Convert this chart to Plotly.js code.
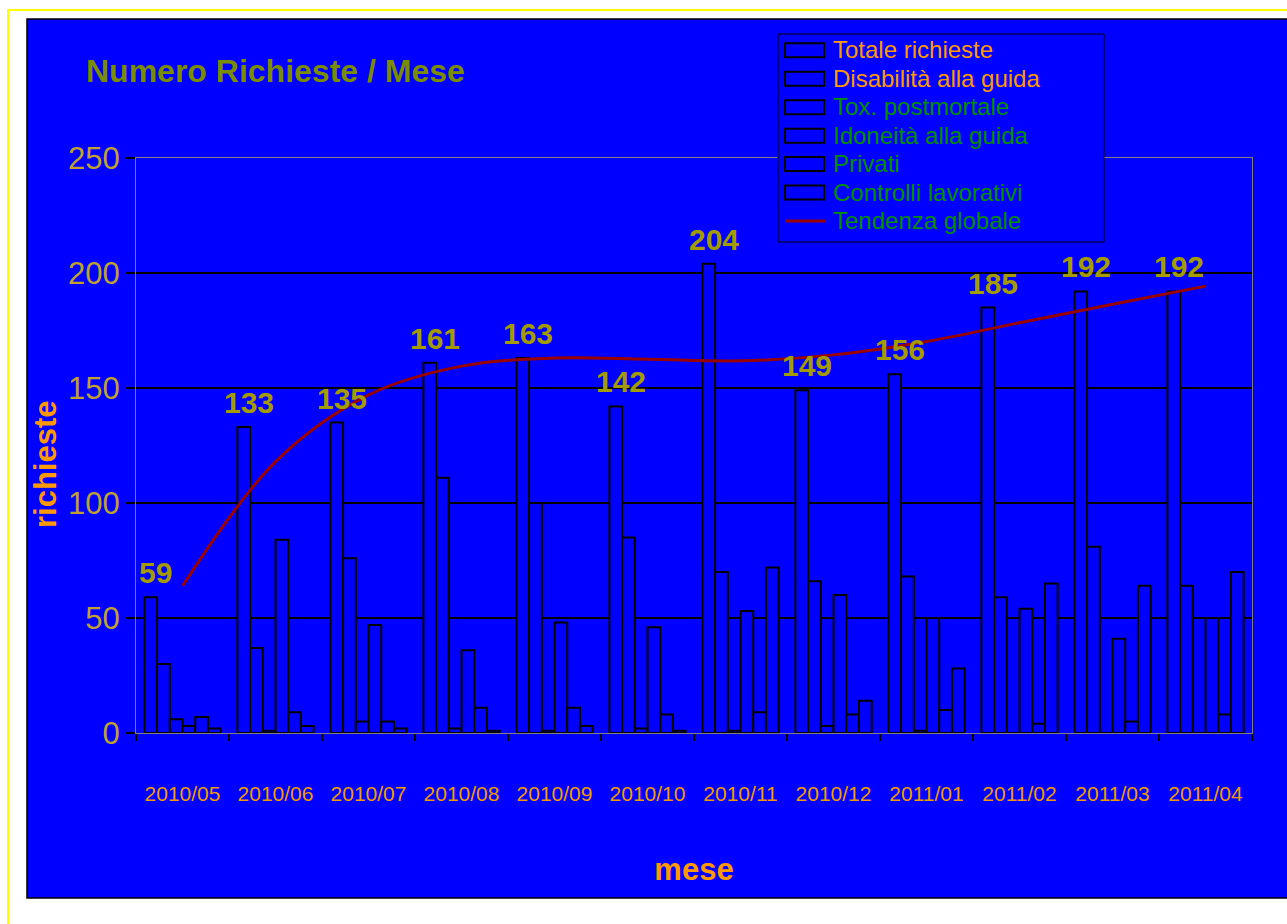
<!DOCTYPE html>
<html>
<head>
<meta charset="utf-8">
<script src="https://cdn.plot.ly/plotly-3.0.1.min.js"></script>
<style>
  html, body { margin: 0; padding: 0; background: #ffffff; }
  #chart { width: 1287px; height: 924px; }
</style>
</head>
<body>
<div id="chart"></div>
<script>
// ---- data ----
const months = ['2010/05','2010/06','2010/07','2010/08','2010/09','2010/10','2010/11','2010/12','2011/01','2011/02','2011/03','2011/04'];
const totale     = [59, 133, 135, 161, 163, 142, 204, 149, 156, 185, 192, 192];
const disabilita = [30, 37, 76, 111, 100, 85, 70, 66, 68, 59, 81, 64];
const tox        = [6, 1, 5, 2, 1, 2, 1, 3, 1, 0, 0, 0];
const idoneita   = [3, 84, 47, 36, 48, 46, 53, 60, 50, 54, 41, 50];
const privati    = [7, 9, 5, 11, 11, 8, 9, 8, 10, 4, 5, 8];
const controlli  = [2, 3, 2, 1, 3, 1, 72, 14, 28, 65, 64, 70];
const tendenza   = [64, 118, 147, 159.5, 163, 162.5, 161.8, 164.4, 170.2, 178.4, 186.4, 194.3];

const seriesNames = ['Totale richieste','Disabilità alla guida','Tox. postmortale','Idoneità alla guida','Privati','Controlli lavorativi'];
const trendName = 'Tendenza globale';
const yTicks = [0, 50, 100, 150, 200, 250];

// ---- styling ----
const FONT = 'Liberation Sans, Arial, Helvetica, sans-serif';
const BLUE = '#0000FF';
const ORANGE = '#FF9900';
const GREEN = '#009000';
const legendColors = [ORANGE, ORANGE, GREEN, GREEN, GREEN, GREEN, GREEN];

// plot area in pixels
const L = 136, R = 1252, T = 158, B = 733;
const W = 1287, H = 924;
const px = x => (x - L) / (R - L);
const py = y => (B - y) / (B - T);

const seriesData = [totale, disabilita, tox, idoneita, privati, controlli];
const traces = seriesData.map((vals, i) => ({
  type: 'bar',
  name: seriesNames[i],
  x: months,
  y: vals,
  marker: { color: BLUE, line: { color: '#000000', width: 2 } },
  showlegend: false,
  hoverinfo: 'x+y+name'
}));
traces.push({
  type: 'scatter',
  mode: 'lines',
  name: trendName,
  x: months,
  y: tendenza,
  line: { color: '#990000', width: 3, shape: 'spline', smoothing: 1 },
  showlegend: false
});

// shapes: frame, background, legend box
const shapes = [
  { type: 'rect', xref: 'paper', yref: 'paper', layer: 'below',
    x0: px(8), x1: px(1320), y0: py(960), y1: py(10),
    line: { color: '#FFFF00', width: 2 }, fillcolor: 'rgba(0,0,0,0)' },
  { type: 'rect', xref: 'paper', yref: 'paper', layer: 'below',
    x0: px(27), x1: px(1320), y0: py(898), y1: py(19),
    line: { color: '#000000', width: 1.5 }, fillcolor: BLUE },
  { type: 'rect', xref: 'paper', yref: 'paper', layer: 'above',
    x0: px(778), x1: px(1104), y0: py(242), y1: py(34),
    line: { color: '#000000', width: 1 }, fillcolor: BLUE }
];

const annotations = [];
const allNames = seriesNames.concat([trendName]);
allNames.forEach((nm, i) => {
  const cy = 50.3 + i * 28.45;
  if (i < seriesNames.length) {
    shapes.push({ type: 'rect', xref: 'paper', yref: 'paper', layer: 'above',
      x0: px(785), x1: px(824), y0: py(cy + 7), y1: py(cy - 7),
      line: { color: '#000000', width: 2 }, fillcolor: BLUE });
  } else {
    shapes.push({ type: 'line', xref: 'paper', yref: 'paper', layer: 'above',
      x0: px(785), x1: px(825), y0: py(cy), y1: py(cy),
      line: { color: '#990000', width: 3 } });
  }
  annotations.push({
    xref: 'paper', yref: 'paper', x: px(831), y: py(cy - 0.5),
    xanchor: 'left', yanchor: 'middle', showarrow: false,
    text: nm, font: { family: FONT, size: 24, color: legendColors[i] }
  });
});

// data labels over the totals
months.forEach((m, i) => {
  annotations.push({
    x: m, y: totale[i], xref: 'x', yref: 'y',
    xanchor: 'center', yanchor: 'bottom', showarrow: false,
    xshift: -27, yshift: 6,
    text: '<b>' + totale[i] + '</b>',
    font: { family: FONT, size: 30, color: '#A39B00' }
  });
});

// y-axis title (placed as in the reference, a little below the middle)
annotations.push({
  xref: 'paper', yref: 'paper', x: px(45), y: py(464),
  xanchor: 'center', yanchor: 'middle', showarrow: false, textangle: -90,
  text: '<b>richieste</b>', font: { family: FONT, size: 31, color: ORANGE }
});

const layout = {
  width: W, height: H, autosize: false,
  margin: { l: L, r: W - R, t: T, b: H - B, pad: 0 },
  paper_bgcolor: '#FFFFFF',
  plot_bgcolor: 'rgba(0,0,0,0)',
  font: { family: FONT },
  title: {
    text: '<b>Numero Richieste / Mese</b>',
    xref: 'container', yref: 'container',
    x: 86 / W, xanchor: 'left',
    y: 1 - 71 / H, yanchor: 'middle',
    font: { family: FONT, size: 32, color: '#7A8C00' }
  },
  barmode: 'group',
  bargap: 0.18,
  bargroupgap: 0,
  showlegend: false,
  xaxis: {
    type: 'category',
    tickvals: months, ticktext: months,
    showline: true, linecolor: '#808080', linewidth: 1, mirror: true,
    ticks: 'outside', tickson: 'boundaries', ticklen: 7, tickcolor: '#000000', tickwidth: 2,
    showgrid: false, zeroline: false,
    tickfont: { family: FONT, size: 21, color: '#F09A00' },
    ticklabelstandoff: 42,
    title: { text: '<b>mese</b>', font: { family: FONT, size: 31, color: ORANGE }, standoff: 54 },
    fixedrange: true
  },
  yaxis: {
    range: [0, 250],
    tickvals: yTicks,
    showline: true, linecolor: '#808080', linewidth: 1, mirror: true,
    ticks: 'outside', ticklen: 9, tickcolor: '#000000', tickwidth: 2,
    showgrid: true, gridcolor: '#000000', gridwidth: 2,
    zeroline: false,
    tickfont: { family: FONT, size: 31, color: '#BFA030' },
    fixedrange: true
  },
  shapes: shapes,
  annotations: annotations
};

Plotly.newPlot('chart', traces, layout, { displayModeBar: false, staticPlot: true });
</script>
</body>
</html>
